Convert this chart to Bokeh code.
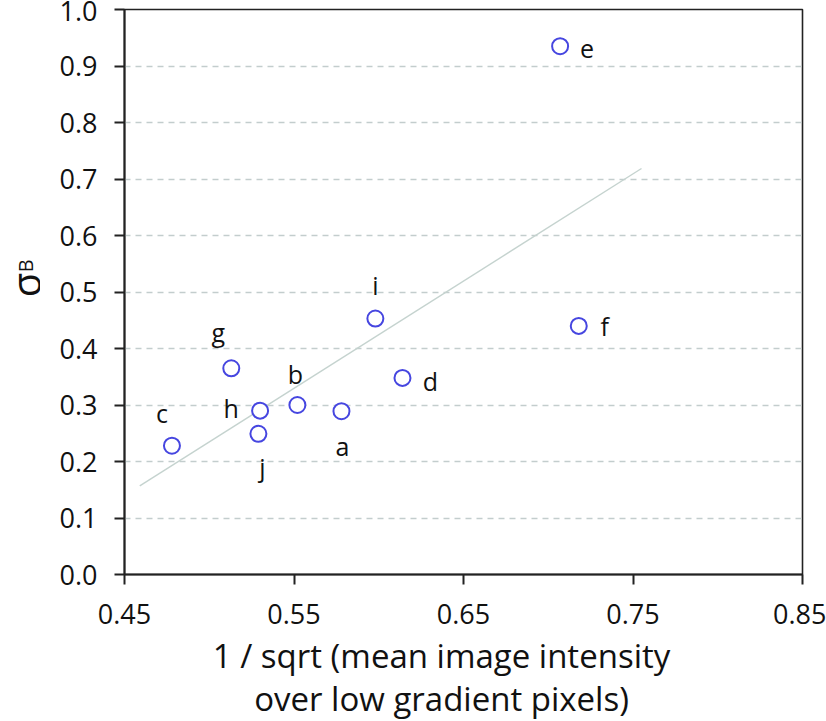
import numpy as np
from bokeh.plotting import figure
from bokeh.models import ColumnDataSource, FixedTicker, NumeralTickFormatter, Range1d
from bokeh.layouts import row, column
from bokeh.embed import file_html
from bokeh.resources import INLINE
from bokeh.core.properties import value

# ---- data ----
names = ["a", "b", "c", "d", "e", "f", "g", "h", "i", "j"]
x_vals = [0.578, 0.552, 0.478, 0.614, 0.707, 0.718, 0.513, 0.530, 0.598, 0.529]
y_vals = [0.289, 0.300, 0.228, 0.348, 0.935, 0.440, 0.365, 0.290, 0.453, 0.249]
x_ticks = [0.45, 0.55, 0.65, 0.75, 0.85]
y_ticks = [0.0, 0.1, 0.2, 0.3, 0.4, 0.5, 0.6, 0.7, 0.8, 0.9, 1.0]
trend_x = [0.459, 0.755]
x_title_lines = ["1 / sqrt (mean image intensity", "over low gradient pixels)"]
y_title = "σ"
y_title_sub = "B"

# ---- label placement (screen px offsets, style only) ----
lab_dx = [1, -2, -10, 28, 27, 26, -13, -29, 0, 4]
lab_dy = [35, -31, -33, 3, 3, 0, -36, -3, -34, 33]

FONT = "Open Sans"
INK = "#111111"
MAIN_H = 632
TITLE_H = 721 - MAIN_H

slope, intercept = np.polyfit(np.array(x_vals), np.array(y_vals), 1)
trend_y = [slope * xv + intercept for xv in trend_x]

# ---------------- main plot ----------------
p = figure(width=786, height=MAIN_H, x_range=Range1d(0.45, 0.85), y_range=Range1d(0.0, 1.0),
           output_backend="svg", toolbar_location=None,
           min_border_left=84, min_border_right=24, min_border_top=9,
           min_border_bottom=MAIN_H - 574)
p.background_fill_color = "white"
p.border_fill_color = "white"
p.outline_line_color = "#222222"
p.outline_line_width = 1.6

p.xgrid.grid_line_color = None
p.ygrid.ticker = FixedTicker(ticks=y_ticks)
p.ygrid.grid_line_color = "#c3cdcd"
p.ygrid.grid_line_width = 1.3
p.ygrid.grid_line_dash = "6 5"

for ax in (p.xaxis[0], p.yaxis[0]):
    ax.axis_line_color = "#222222"
    ax.axis_line_width = 2
    ax.major_tick_line_color = "#222222"
    ax.major_tick_line_width = 2
    ax.major_tick_in = 0
    ax.major_tick_out = 10
    ax.minor_tick_line_color = None
    ax.major_label_text_font = FONT
    ax.major_label_text_font_size = "27px"
    ax.major_label_text_color = INK

p.xaxis.ticker = FixedTicker(ticks=x_ticks)
p.xaxis.formatter = NumeralTickFormatter(format="0.00")
p.xaxis.major_label_standoff = 19
p.yaxis.ticker = FixedTicker(ticks=y_ticks)
p.yaxis.formatter = NumeralTickFormatter(format="0.0")
p.yaxis.major_label_standoff = 17

p.line(trend_x, trend_y, line_color="#c5d3cf", line_width=1.4)

src = ColumnDataSource(dict(x=x_vals, y=y_vals, name=names, dx=lab_dx, dy=lab_dy))
p.scatter("x", "y", source=src, marker="circle", size=16, fill_color="white",
          line_color="#4646e0", line_width=2)
p.text("x", "y", text="name", source=src, x_offset="dx", y_offset="dy",
       text_font=value(FONT), text_font_size="25px", text_color=INK,
       text_align="center", text_baseline="middle")

# ---------------- y title strip (pixel coordinates, y measured up) ----------------
yfig = figure(width=40, height=MAIN_H, x_range=Range1d(0, 40), y_range=Range1d(0, MAIN_H),
              output_backend="svg", toolbar_location=None,
              x_axis_location=None, y_axis_location=None, min_border=0)
yfig.outline_line_color = None
yfig.grid.grid_line_color = None
yfig.text(x=[25], y=[MAIN_H - 322], text=[y_title], angle=np.pi / 2,
          text_font=value(FONT), text_font_size="40px", text_color=INK,
          text_align="left", text_baseline="alphabetic")
yfig.text(x=[25], y=[MAIN_H - 294], text=[y_title_sub], angle=np.pi / 2,
          text_font=value(FONT), text_font_size="20px", text_color=INK,
          text_align="left", text_baseline="alphabetic")

# ---------------- x title strip (pixel coordinates, y measured down) ----------------
xfig = figure(width=826, height=TITLE_H, x_range=Range1d(0, 826), y_range=Range1d(TITLE_H, 0),
              output_backend="svg", toolbar_location=None,
              x_axis_location=None, y_axis_location=None, min_border=0)
xfig.outline_line_color = None
xfig.grid.grid_line_color = None
xfig.text(x=[441, 441], y=[655 - MAIN_H, 697.5 - MAIN_H], text=x_title_lines,
          text_font=value(FONT), text_font_size="33px", text_color=INK,
          text_align="center", text_baseline="middle")

layout = column(row(yfig, p, spacing=0), xfig, spacing=0)
open("out.html", "w").write(file_html(layout, INLINE))
